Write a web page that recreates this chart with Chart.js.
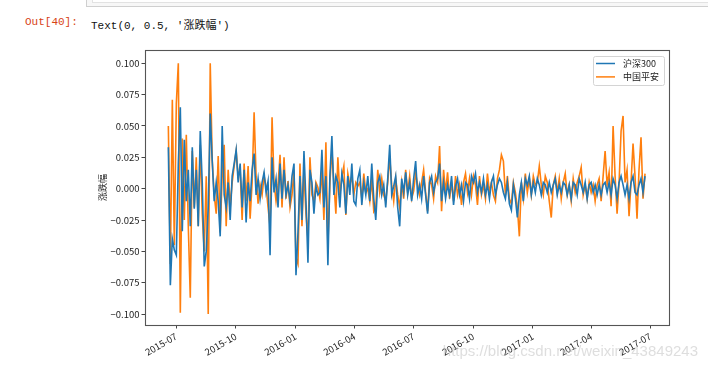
<!DOCTYPE html>
<html>
<head>
<meta charset="utf-8">
<script src="https://cdn.jsdelivr.net/npm/chart.js@4.4.1/dist/chart.umd.min.js"></script>
<style>
  body { margin: 0; width: 708px; height: 371px; background: #fff; position: relative; overflow: hidden; }
  #c { position: absolute; left: 0; top: 0; }
  .cell { position: absolute; left: 86px; top: -3px; width: 640px; height: 8px; border: 1px solid #cfcfcf; background: #f7f7f7; }
  .cell2 { position: absolute; left: 92px; top: -3px; width: 630px; height: 4px; border: 1px solid #e2e2e2; background: #fff; }
  .prompt { position: absolute; top: 16px; font: 11px "Liberation Mono", "DejaVu Sans Mono", monospace; white-space: pre; }
  .out { left: 25px; color: #d84315; }
  .txt { left: 91px; color: #111; font-family: "Liberation Mono", "Noto Sans CJK SC", monospace; }
  .wm { position: absolute; right: 10px; top: 342px; font: 15px "Liberation Sans", Arial, sans-serif; color: rgba(190,190,190,0.5); white-space: nowrap; z-index: 2; }
</style>
</head>
<body>
<div class="cell"></div>
<div class="cell2"></div>
<div class="prompt out">Out[40]:</div>
<div class="prompt txt">Text(0, 0.5, '涨跌幅')</div>
<canvas id="c" width="708" height="371"></canvas>
<div class="wm">https://blog.csdn.net/weixin_43849243</div>
<script>
const hs300Pct = [
  3.3,-7.7,-4.0,-4.9,-5.3,2.0,6.5,-3.4,3.9,-1.0,1.5,-3.0,3.3,-1.6,1.5,-3.0,4.6,0.5,-6.2,-5.0,-1.5,6.0,2.2,-1.0,0.5,-1.0,-3.8,5.0,-0.5,-1.5,0.5,-2.5,1.0,2.0,3.1,0.5,
  2.0,-1.5,1.5,-2.7,0.5,-1.0,1.5,2.8,-0.5,0.8,-0.8,0.5,1.3,-0.3,0.6,-5.3,2.5,-0.3,0.8,-1.5,2.0,-0.8,1.5,-0.5,0.3,-1.0,1.0,2.0,-6.9,-3.5,
  1.0,-2.5,3.0,-1.0,-5.9,1.5,0.5,-2.0,0.2,-0.5,-0.3,3.1,-1.5,1.0,-6.1,1.0,4.2,-0.5,1.0,0.5,-1.5,1.2,0.3,-2.0,1.0,-0.5,2.0,-1.0,-1.3,0.8,
  1.5,-1.3,0.5,-0.5,1.0,-1.0,2.0,-0.8,-2.5,0.5,1.0,-0.5,0.3,-1.5,0.8,3.5,-0.5,0.2,1.0,-1.5,-3.0,0.8,-0.3,1.3,-0.5,0.5,-1.0,0.8,2.2,-0.5,
  0.3,-0.8,1.0,-0.5,-2.0,0.5,1.0,-0.3,0.5,0.8,2.0,-1.0,0.5,-0.8,0.3,-0.5,1.0,-1.3,0.2,0.8,-0.5,0.3,-1.0,0.5,0.3,-0.8,1.0,0.5,1.2,-0.3,
  0.5,-0.3,0.8,-0.5,0.3,-0.8,0.5,1.0,-0.5,0.3,0.8,0.5,-0.3,-0.8,0.5,-1.2,-1.7,0.3,-0.8,-2.3,-0.5,0.5,-1.0,0.8,0.3,1.0,-0.5,0.5,-0.3,0.8,
  0.3,-0.5,0.5,0.3,-0.3,0.5,-0.3,0.3,0.8,-0.5,0.3,-0.3,0.5,0.3,-0.5,0.3,-0.8,0.5,0.3,-0.5,0.8,0.3,-0.3,0.5,-0.8,0.3,0.5,-0.3,0.3,-0.5,
  0.3,-0.5,0.3,0.5,-0.3,0.5,-0.5,0.8,0.3,-0.8,0.5,1.0,0.3,-0.5,0.3,-0.8,0.5,1.0,-0.3,-0.5,0.3,0.8,-0.3,1.0
];
const pinganPct = [
  5.0,-6.0,7.1,-4.5,6.8,10.0,-9.9,4.0,-2.5,4.3,-3.0,-8.7,3.0,-1.5,2.5,-3.0,3.5,-2.0,-5.0,1.0,-10.0,10.0,2.3,-0.5,-2.0,2.6,-3.5,1.0,3.5,-3.0,1.5,-1.5,0.5,1.8,3.0,1.0,
  1.5,-2.5,2.0,-1.0,1.8,-2.4,0.5,6.1,1.0,-1.2,0.3,-0.5,1.0,0.2,-1.5,-3.0,5.7,0.5,-1.0,0.3,2.7,-1.5,2.5,-0.8,0.6,-1.5,-0.5,1.5,-5.5,-6.0,
  2.0,-3.0,1.5,-2.0,-4.0,2.5,-0.5,-1.0,0.5,0.1,-0.8,1.5,-2.5,3.7,-4.5,0.5,3.0,0.5,-2.0,2.5,-0.5,1.0,1.8,-2.1,1.2,0.3,1.0,-0.5,0.5,0.2,
  0.5,-0.8,1.2,-0.3,0.0,-1.0,0.8,-1.8,-1.5,1.5,-0.3,0.8,-0.5,-1.0,0.5,2.5,0.3,-1.0,0.8,-0.5,-1.5,0.5,-0.8,1.5,-0.3,1.0,-0.8,-0.2,1.2,0.3,
  -0.5,0.5,1.5,-0.3,-1.8,0.8,0.3,-0.8,1.0,0.5,3.4,-1.8,1.5,-0.3,1.3,-0.8,0.5,-1.0,1.0,-0.5,0.3,-1.3,0.5,1.2,-0.3,0.8,-0.5,1.0,0.3,-1.3,
  1.0,-0.5,0.3,-0.8,1.2,-0.3,0.5,-0.5,-1.0,0.8,1.5,2.7,2.2,-0.5,1.0,-0.8,-1.2,0.5,-0.3,-1.5,-3.8,0.5,-0.8,1.2,-0.3,0.8,-0.5,1.0,0.3,0.5,
  1.8,0.3,-0.5,1.0,0.5,-1.0,-2.3,0.3,1.0,-0.3,0.8,-0.8,0.5,1.2,-0.5,0.3,-1.0,0.8,-0.3,0.5,1.0,1.7,-0.5,0.3,-0.8,0.5,-0.3,0.3,-1.0,0.3,
  0.8,-1.0,1.0,3.0,0.3,1.3,-1.4,5.0,1.0,-2.0,0.5,4.6,5.8,0.5,1.5,-2.2,0.5,3.6,1.0,-2.4,1.5,4.1,-0.8,1.2
];
const seriesNames = ['沪深300', '中国平安'];
const xTickLabels = ['2015-07', '2015-10', '2016-01', '2016-04', '2016-07', '2016-10', '2017-01', '2017-04', '2017-07'];
const yTickValues = [-0.1, -0.075, -0.05, -0.025, 0, 0.025, 0.05, 0.075, 0.1];

const DAY = 864e5;
const dayOf = s => Date.UTC(+s.slice(0, 4), +s.slice(5, 7) - 1, s.length > 7 ? +s.slice(8, 10) : 1) / DAY;
const firstDay = dayOf('2015-06-19');
const lastDay = dayOf('2017-06-23');

function toPoints(pct) {
  const n = pct.length;
  return pct.map((v, i) => ({ x: firstDay + i * (lastDay - firstDay) / (n - 1), y: v / 100 }));
}

const fmtDay = d => {
  const dt = new Date(Math.round(d) * DAY);
  return dt.getUTCFullYear() + '-' + String(dt.getUTCMonth() + 1).padStart(2, '0');
};

const cjk = '"Noto Sans CJK SC", "DejaVu Sans", sans-serif';
Chart.defaults.font.family = cjk;
Chart.defaults.color = '#222';

const frame = {
  id: 'frame',
  afterDatasetsDraw(chart) {
    const a = chart.chartArea, ctx = chart.ctx;
    ctx.save();
    ctx.strokeStyle = '#555';
    ctx.lineWidth = 1.1;
    ctx.strokeRect(a.left + 0.5, a.top + 0.5, a.right - a.left, a.bottom - a.top);
    ctx.restore();
  }
};

const legendBox = {
  id: 'legendBox',
  afterDraw(chart) {
    const a = chart.chartArea, ctx = chart.ctx;
    const x = a.right - 76, y = a.top + 6, w = 71, h = 29;
    ctx.save();
    ctx.fillStyle = 'rgba(255,255,255,0.8)';
    ctx.strokeStyle = '#d4d4d4';
    ctx.lineWidth = 1;
    ctx.beginPath();
    ctx.roundRect(x + 0.5, y + 0.5, w, h, 2);
    ctx.fill();
    ctx.stroke();
    ctx.font = '9px ' + cjk;
    ctx.textBaseline = 'middle';
    chart.data.datasets.forEach((ds, i) => {
      const ly = y + 7.5 + i * 13.4;
      ctx.strokeStyle = ds.borderColor;
      ctx.lineWidth = 1.5;
      ctx.beginPath();
      ctx.moveTo(x + 3, ly);
      ctx.lineTo(x + 22, ly);
      ctx.stroke();
      ctx.fillStyle = '#222';
      ctx.fillText(ds.label, x + 30, ly);
    });
    ctx.restore();
  }
};

new Chart(document.getElementById('c'), {
  type: 'line',
  data: {
    datasets: [
      { label: seriesNames[0], data: toPoints(hs300Pct), borderColor: '#1f77b4', borderWidth: 1.6, pointRadius: 0, tension: 0 },
      { label: seriesNames[1], data: toPoints(pinganPct), borderColor: '#ff7f0e', borderWidth: 1.6, pointRadius: 0, tension: 0 }
    ]
  },
  options: {
    responsive: false,
    animation: false,
    events: [],
    layout: { padding: { top: 50, right: 39, left: 97, bottom: 0 } },
    plugins: { legend: { display: false }, tooltip: { enabled: false } },
    scales: {
      x: {
        type: 'linear',
        min: dayOf('2015-05-14'),
        max: dayOf('2017-07-30'),
        afterBuildTicks: s => { s.ticks = xTickLabels.map(t => ({ value: dayOf(t) })); },
        afterFit: s => { s.height = 46; },
        ticks: { callback: v => fmtDay(v), minRotation: 30, maxRotation: 30, autoSkip: false, padding: 2, font: { size: 9.5 }, color: '#222' },
        grid: { display: true, drawOnChartArea: false, drawTicks: true, tickLength: 3.5, color: '#444' },
        border: { display: false }
      },
      y: {
        min: -0.1087,
        max: 0.1106,
        afterBuildTicks: s => { s.ticks = yTickValues.map(v => ({ value: v })); },
        afterFit: s => { s.width = 48; },
        ticks: { callback: v => v.toFixed(3).replace('-', '\u2212'), padding: 2, font: { size: 9.5 }, color: '#222' },
        grid: { display: true, drawOnChartArea: false, drawTicks: true, tickLength: 3.5, color: '#444' },
        border: { display: false },
        title: { display: true, text: '涨跌幅', font: { size: 9 }, padding: 0, color: '#222' }
      }
    }
  },
  plugins: [frame, legendBox]
});
</script>
</body>
</html>
